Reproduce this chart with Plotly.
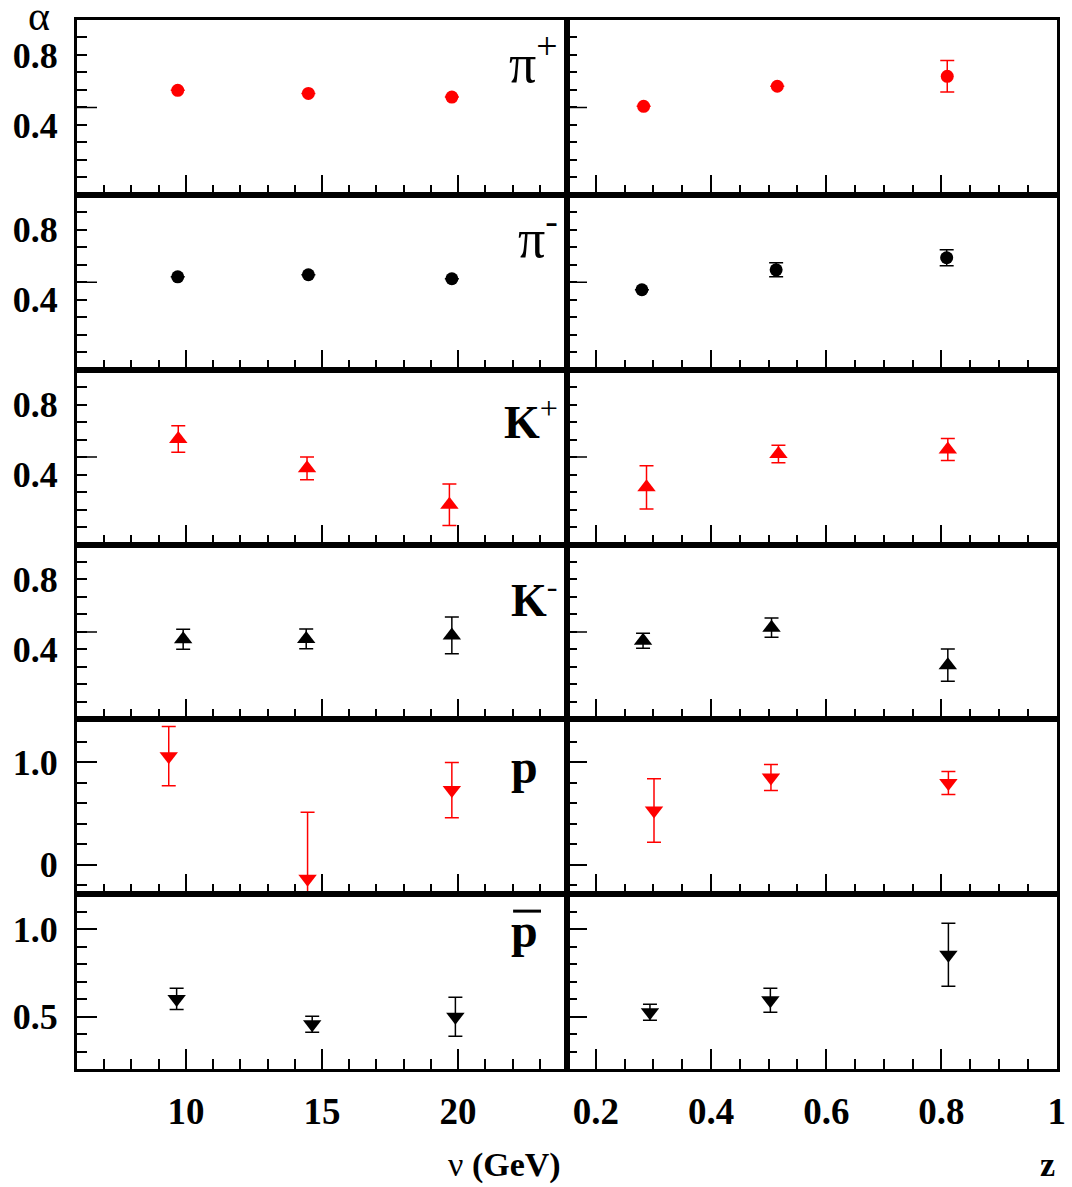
import plotly.graph_objects as go
from plotly.subplots import make_subplots

# alpha vs nu (GeV), left column
nu_pip = [9.70, 14.50, 19.77]
a_pip_nu = [0.598, 0.580, 0.559]
e_pip_nu = [0, 0, 0]
nu_pim = [9.70, 14.50, 19.77]
a_pim_nu = [0.531, 0.543, 0.520]
e_pim_nu = [0, 0, 0]
nu_kp = [9.72, 14.45, 19.68]
a_kp_nu = [0.603, 0.436, 0.227]
e_kp_nu = [0.076, 0.065, 0.119]
nu_km = [9.90, 14.42, 19.77]
a_km_nu = [0.458, 0.460, 0.480]
e_km_nu = [0.057, 0.056, 0.105]
nu_p = [9.37, 14.47, 19.77]
a_p_nu = [1.06, -0.14, 0.728]
e_p_nu = [0.29, 0.65, 0.27]
nu_pb = [9.66, 14.64, 19.90]
a_pb_nu = [0.601, 0.456, 0.499]
e_pb_nu = [0.061, 0.046, 0.112]

# alpha vs z, right column
z_pip = [0.283, 0.515, 0.810]
a_pip_z = [0.506, 0.621, 0.678]
e_pip_z = [0, 0, 0.09]
z_pim = [0.280, 0.513, 0.809]
a_pim_z = [0.457, 0.571, 0.640]
e_pim_z = [0, 0.04, 0.046]
z_kp = [0.288, 0.517, 0.811]
a_kp_z = [0.327, 0.517, 0.543]
e_kp_z = [0.124, 0.05, 0.063]
z_km = [0.282, 0.505, 0.811]
a_km_z = [0.449, 0.524, 0.310]
e_km_z = [0.043, 0.055, 0.092]
z_p = [0.301, 0.504, 0.812]
a_p_z = [0.528, 0.850, 0.797]
e_p_z = [0.31, 0.127, 0.112]
z_pb = [0.294, 0.503, 0.812]
a_pb_z = [0.525, 0.593, 0.854]
e_pb_z = [0.046, 0.069, 0.18]

labels = ["π<sup>+</sup>", "π<sup>-</sup>", "<b>K</b><sup>+</sup>", "<b>K</b><sup>-</sup>", "<b>p</b>", "<b>p</b>"]
label_size = [54, 54, 46, 46, 48, 48]
colors = ["red", "black", "red", "black", "red", "black"]
symbols = ["circle", "circle", "triangle-up", "triangle-up", "triangle-down", "triangle-down"]
left = [(nu_pip, a_pip_nu, e_pip_nu), (nu_pim, a_pim_nu, e_pim_nu), (nu_kp, a_kp_nu, e_kp_nu),
        (nu_km, a_km_nu, e_km_nu), (nu_p, a_p_nu, e_p_nu), (nu_pb, a_pb_nu, e_pb_nu)]
right = [(z_pip, a_pip_z, e_pip_z), (z_pim, a_pim_z, e_pim_z), (z_kp, a_kp_z, e_kp_z),
         (z_km, a_km_z, e_km_z), (z_p, a_p_z, e_p_z), (z_pb, a_pb_z, e_pb_z)]

# y axis setup per row: range, labelled ticks, minor step
y_ranges = [[0, 1], [0, 1], [0, 1], [0, 1], [-0.29, 1.42], [0.2, 1.2]]
y_ticks = [[0.4, 0.8]] * 4 + [[0, 1.0], [0.5, 1.0]]
y_text = [["0.4", "0.8"]] * 4 + [["0", "1.0"], ["0.5", "1.0"]]
y_minor = [0.1, 0.1, 0.1, 0.1, 0.2, 0.1]

serif = "Liberation Serif"

fig = make_subplots(rows=6, cols=2, horizontal_spacing=0, vertical_spacing=0)

for i in range(6):
    r = i + 1
    for c, (xs, ys, es) in ((1, left[i]), (2, right[i])):
        fig.add_trace(go.Scatter(
            x=xs, y=ys, mode="markers",
            marker=dict(symbol=symbols[i], color=colors[i], size=13 if symbols[i] == "circle" else 16),
            error_y=dict(type="data", array=es, visible=True, color=colors[i], thickness=1.5, width=7),
            showlegend=False), row=r, col=c)
    long_tick = 20 if i >= 4 else 10
    for c in (1, 2):
        fig.update_yaxes(range=y_ranges[i], tickvals=y_ticks[i], ticktext=y_text[i], ticklen=long_tick,
                         minor=dict(ticks="inside", ticklen=10, dtick=y_minor[i], tick0=0,
                                    tickcolor="black", tickwidth=1.5),
                         showticklabels=(c == 1), row=r, col=c)
    fig.update_xaxes(range=[6, 24], tickvals=[10, 15, 20], ticktext=["10", "15", "20"],
                     minor=dict(ticks="inside", ticklen=10, dtick=1, tick0=0,
                                tickcolor="black", tickwidth=1.5),
                     showticklabels=(r == 6), row=r, col=1)
    fig.update_xaxes(range=[0.15, 1.0005], tickvals=[0.2, 0.4, 0.6, 0.8, 1.0],
                     ticktext=["0.2", "0.4", "0.6", "0.8", "1"],
                     minor=dict(ticks="inside", ticklen=10, dtick=0.05, tick0=0,
                                tickcolor="black", tickwidth=1.5),
                     showticklabels=(r == 6), row=r, col=2)
    # long tick at 0.5 on the upper rows
    if i < 4:
        for c in (1, 2):
            n = 2 * i + c
            sfx = "" if n == 1 else str(n)
            fig.add_shape(type="line", xref="x%s domain" % sfx, yref="y%s" % sfx,
                          x0=0, x1=20 / 490, y0=0.5, y1=0.5,
                          line=dict(color="black", width=1.5))
    # particle label
    n = 2 * i + 1
    sfx = "" if n == 1 else str(n)
    xpos = 0.986 if i < 4 else 0.945
    ypos = [0.775, 0.775, 0.72, 0.70, 0.73, 0.79][i]
    fig.add_annotation(text=labels[i], xref="x%s domain" % sfx, yref="y%s domain" % sfx,
                       x=xpos, y=ypos, xanchor="right", yanchor="middle", showarrow=False,
                       font=dict(family=serif, size=label_size[i], color="black"))

# bar over the antiproton label
fig.add_shape(type="line", xref="x11 domain", yref="y11 domain", x0=0.890, x1=0.947,
              y0=0.903, y1=0.903, line=dict(color="black", width=3))

fig.update_xaxes(showline=True, linewidth=3, linecolor="black", mirror=True, ticks="inside",
                 tickcolor="black", tickwidth=1.5, ticklen=20, showgrid=False, zeroline=False,
                 ticklabelstandoff=8, automargin=False,
                 tickfont=dict(family=serif, size=37, color="black", weight="bold"))
fig.update_yaxes(showline=True, linewidth=3, linecolor="black", mirror=True, ticks="inside",
                 tickcolor="black", tickwidth=1.5, showgrid=False, zeroline=False,
                 ticklabelstandoff=9, automargin=False,
                 tickfont=dict(family=serif, size=36, color="black", weight="bold"))

fig.add_annotation(text="α", xref="paper", yref="paper", x=-0.0388, y=1.004,
                   xanchor="center", yanchor="middle", showarrow=False,
                   font=dict(family=serif, size=42, color="black"))
fig.add_annotation(text="ν <b>(GeV)</b>", xref="paper", yref="paper", x=0.4367, y=-0.0915,
                   xanchor="center", yanchor="middle", showarrow=False,
                   font=dict(family=serif, size=34, color="black"))
fig.add_annotation(text="<b>z</b>", xref="paper", yref="paper", x=0.9908, y=-0.0915,
                   xanchor="center", yanchor="middle", showarrow=False,
                   font=dict(family=serif, size=34, color="black"))

fig.update_layout(width=1072, height=1187, margin=dict(l=77, r=15, t=20, b=118),
                  plot_bgcolor="white", paper_bgcolor="white")

fig.write_html("out.html", config={"displayModeBar": False, "responsive": False},
               post_script="document.body.style.margin = '0';")
